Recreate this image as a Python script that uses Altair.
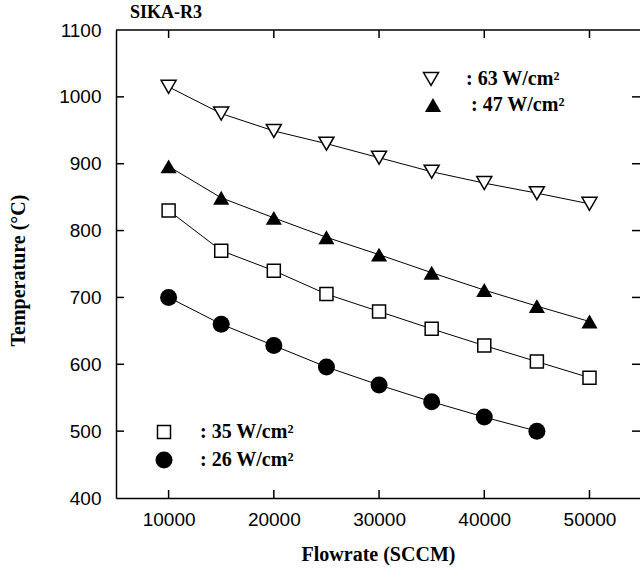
import altair as alt
import pandas as pd

# ---- data ----
flow = [10000, 15000, 20000, 25000, 30000, 35000, 40000, 45000, 50000]
t63 = [1015, 975, 949, 930, 909, 888, 871, 856, 840]
t47 = [896, 849, 819, 790, 764, 737, 711, 687, 664]
t35 = [830, 770, 740, 705, 679, 653, 628, 604, 580]
flow26 = [10000, 15000, 20000, 25000, 30000, 35000, 40000, 45000]
t26 = [700, 660, 628, 596, 569, 544, 521, 500]

x_ticks = [10000, 20000, 30000, 40000, 50000]
y_ticks = [400, 500, 600, 700, 800, 900, 1000, 1100]
y_inner = [500, 600, 700, 800, 900, 1000]

legend_labels = [": 63 W/cm²", ": 47 W/cm²", ": 35 W/cm²", ": 26 W/cm²"]

W, H = 524, 468
SERIF = "Liberation Serif"
SANS = "Liberation Sans"

xs = alt.Scale(domain=[5000, 54800], nice=False, zero=False)
ys = alt.Scale(domain=[400, 1100], nice=False, zero=False)

AX = alt.Axis(values=x_ticks, format="d", ticks=False, tickSize=0, grid=False,
              domain=True, domainColor="black", domainWidth=1.5,
              labelFont=SANS, labelFontSize=19, labelColor="black", labelPadding=12,
              labelFlush=False, labelOverlap=False,
              title="Flowrate (SCCM)", titleFont=SERIF, titleFontSize=20,
              titleFontWeight="bold", titleColor="black", titleY=56,
              titleBaseline="middle")
AY = alt.Axis(values=y_ticks, format="d", ticks=False, tickSize=0, grid=False,
              domain=True, domainColor="black", domainWidth=1.5,
              labelFont=SANS, labelFontSize=19, labelColor="black", labelPadding=15,
              labelFlush=False, labelOverlap=False,
              title="Temperature (°C)", titleFont=SERIF, titleFontSize=20,
              titleFontWeight="bold", titleColor="black", titleX=-98,
              titleY=240, titleAngle=270, titleBaseline="middle")


def X(f):
    return alt.X(f"{f}:Q", scale=xs, axis=AX)


def Y(f):
    return alt.Y(f"{f}:Q", scale=ys, axis=AY)


def series(xv, yv):
    return pd.DataFrame({"x": xv, "y": yv})


d63, d47, d35, d26 = series(flow, t63), series(flow, t47), series(flow, t35), series(flow26, t26)

lines = [alt.Chart(d).mark_line(color="black", strokeWidth=1).encode(x=X("x"), y=Y("y"))
         for d in (d63, d47, d35, d26)]

p63 = alt.Chart(d63).mark_point(shape="triangle-down", size=225, filled=True, fill="white",
                                stroke="black", strokeWidth=1.5, opacity=1).encode(x=X("x"), y=Y("y"))
p47 = alt.Chart(d47).mark_point(shape="triangle-up", size=260, filled=True, fill="black",
                                opacity=1).encode(x=X("x"), y=Y("y"))
p35 = alt.Chart(d35).mark_point(shape="square", size=169, filled=True, fill="white",
                                stroke="black", strokeWidth=1.5, opacity=1).encode(x=X("x"), y=Y("y"))
p26 = alt.Chart(d26).mark_point(shape="circle", size=289, filled=True, fill="black",
                                opacity=1).encode(x=X("x"), y=Y("y"))

# inward ticks on all four sides
xt = pd.DataFrame({"x": x_ticks})
yt = pd.DataFrame({"y": y_inner})
tick_style = dict(color="black", strokeWidth=1.5)
bottom_ticks = alt.Chart(xt).mark_rule(**tick_style).encode(x=X("x"), y=alt.value(H), y2=alt.value(H - 8))
top_ticks = alt.Chart(xt).mark_rule(**tick_style).encode(x=X("x"), y=alt.value(0), y2=alt.value(8))
left_ticks = alt.Chart(yt).mark_rule(**tick_style).encode(y=Y("y"), x=alt.value(0), x2=alt.value(8))
right_ticks = alt.Chart(yt).mark_rule(**tick_style).encode(y=Y("y"), x=alt.value(W - 8), x2=alt.value(W))

one = pd.DataFrame({"k": [0]})
top_border = alt.Chart(one).mark_rule(**tick_style).encode(x=alt.value(0), x2=alt.value(W), y=alt.value(0))

title = alt.Chart(one).mark_text(align="left", baseline="middle", font=SERIF, fontSize=18,
                                 fontWeight="bold", color="black").encode(
    x=alt.value(14), y=alt.value(-17), text=alt.value("SIKA-R3"))

# in-plot legend
def leg_sym(shape, fill, stroke, size, x, y):
    kw = dict(shape=shape, size=size, filled=True, fill=fill, opacity=1)
    if stroke:
        kw.update(stroke="black", strokeWidth=1.5)
    return alt.Chart(one).mark_point(**kw).encode(x=alt.value(x), y=alt.value(y))


def leg_txt(label, x, y):
    return alt.Chart(one).mark_text(align="left", baseline="middle", font=SERIF, fontSize=20,
                                    fontWeight="bold", color="black").encode(
        x=alt.value(x), y=alt.value(y), text=alt.value(label))


legend = [
    leg_sym("triangle-down", "white", True, 225, 315, 49), leg_txt(legend_labels[0], 350, 49),
    leg_sym("triangle-up", "black", False, 260, 317, 75), leg_txt(legend_labels[1], 355, 75),
    leg_sym("square", "white", True, 169, 48, 402), leg_txt(legend_labels[2], 84, 402),
    leg_sym("circle", "black", False, 289, 48, 430), leg_txt(legend_labels[3], 84, 430),
]

chart = alt.layer(
    *lines, p63, p47, p35, p26,
    bottom_ticks, top_ticks, left_ticks, right_ticks, top_border, title, *legend
).properties(
    width=W, height=H,
    padding={"left": 116, "top": 30, "right": 0, "bottom": 76},
    autosize=alt.AutoSizeParams(type="none"),
).configure_view(stroke=None)

chart.save("out.html", embed_options={"renderer": "svg", "actions": False})
